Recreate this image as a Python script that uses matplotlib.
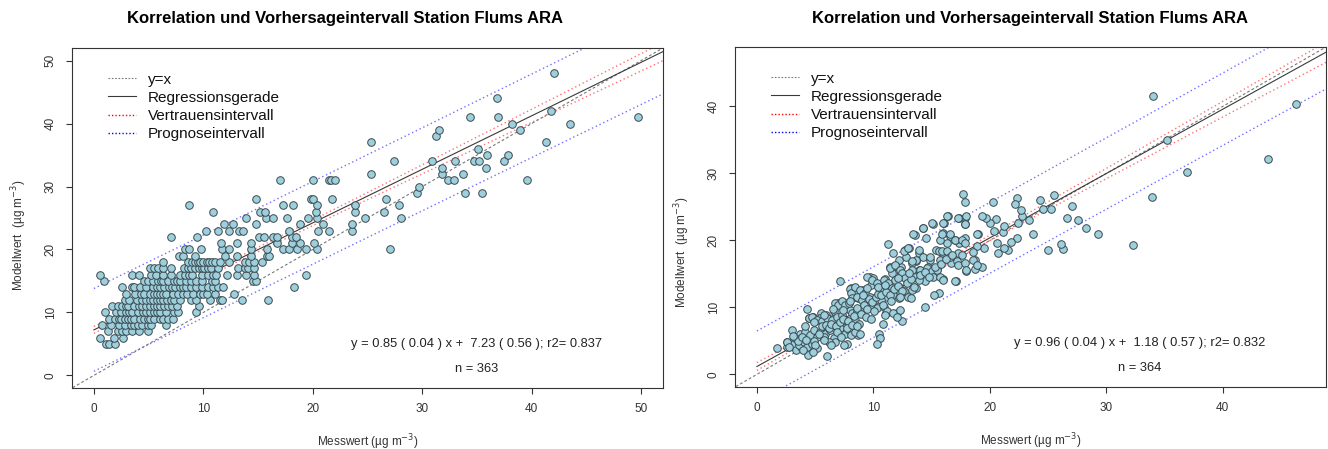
import matplotlib
matplotlib.use("Agg")
import matplotlib.pyplot as plt
from matplotlib.lines import Line2D
import numpy as np

plt.rcParams['font.family'] = ['Liberation Sans', 'DejaVu Sans']

TITLE = "Korrelation und Vorhersageintervall Station Flums ARA"

# left panel: model values are integers -> one list of measured values per row
left_rows_y = [5, 6, 7, 8, 9, 10, 11, 12, 13, 14, 15, 16, 17, 18, 19, 20, 21, 22, 23, 24, 25,
               26, 27, 28, 29, 30, 31, 32, 33, 34, 35, 36, 37, 38, 39, 40, 41, 42, 44, 48]
left_rows_x = [
    [1.1, 1.4, 1.9],
    [0.6, 1.8, 2.7],
    [1.3, 2.2, 2.6, 2.9, 3.5, 4.1, 4.9],
    [0.7, 1.6, 2.3, 2.8, 3.4, 3.7, 4.0, 4.4, 4.9, 5.2, 6.6],
    [1.4, 1.9, 2.3, 2.5, 2.8, 3.1, 3.4, 3.7, 4.2, 4.6, 4.9, 5.1, 5.5, 6.0, 6.3, 6.8, 7.2],
    [1.0, 2.0, 2.5, 2.9, 3.2, 3.5, 4.0, 4.5, 4.8, 5.1, 5.5, 5.8, 6.0, 6.6, 7.3, 7.7, 9.3],
    [1.7, 2.2, 2.6, 2.9, 3.1, 3.7, 4.1, 4.4, 4.8, 5.1, 5.5, 5.8, 6.0, 6.4, 6.8, 7.1, 7.6, 9.6],
    [2.8, 3.2, 3.9, 4.4, 4.8, 5.1, 5.4, 5.8, 6.0, 6.3, 6.7, 7.0, 7.3, 7.9, 8.9, 9.3, 10.6, 11.5,
     11.7, 13.5, 15.9],
    [2.9, 3.8, 4.3, 4.6, 5.1, 5.5, 5.8, 6.0, 6.3, 6.6, 7.2, 7.7, 8.1, 8.5, 9.1, 9.7, 10.0, 10.3,
     11.1, 12.8],
    [2.6, 3.5, 3.7, 4.2, 4.8, 5.4, 5.8, 6.0, 6.4, 6.9, 7.1, 7.4, 7.9, 8.1, 8.4, 8.9, 9.3, 9.9,
     10.4, 10.9, 11.3, 11.8, 18.3],
    [0.9, 4.6, 4.9, 5.4, 5.9, 6.1, 6.3, 6.8, 7.3, 7.6, 7.9, 8.4, 8.9, 9.3, 9.9, 10.8, 11.1,
     14.5, 14.8],
    [0.6, 3.5, 4.1, 5.2, 5.7, 6.3, 7.0, 7.9, 8.3, 8.7, 9.0, 9.9, 10.4, 10.9, 11.2, 12.2, 13.1,
     13.9, 14.6, 19.4],
    [5.1, 5.5, 5.9, 6.3, 7.0, 8.2, 8.6, 8.9, 9.2, 9.6, 9.9, 10.1, 10.4, 10.7, 11.3, 13.2, 13.8,
     14.1, 14.6],
    [6.3, 8.6, 9.0, 9.2, 9.5, 9.7, 10.0, 10.3, 10.5, 10.8, 11.1, 11.5, 12.3, 13.8, 14.2, 14.6,
     15.4],
    [7.8, 8.1, 9.2, 12.0, 13.1, 14.4, 15.8, 16.0],
    [8.3, 8.7, 9.8, 11.7, 12.3, 14.4, 15.8, 17.3, 17.8, 18.6, 19.4, 20.4, 27.1],
    [11.6, 13.1, 14.4, 16.7, 18.1, 18.8, 20.1],
    [7.0, 9.4, 15.1, 15.5, 16.4, 16.7, 18.1, 18.5],
    [10.2, 11.3, 12.3, 13.3, 13.6, 17.8, 20.5, 21.5, 23.6],
    [11.9, 12.7, 14.8, 18.8, 20.9, 23.6],
    [13.9, 15.7, 16.4, 17.6, 19.6, 20.4, 24.8, 28.1],
    [10.9, 15.2, 15.6, 20.3, 23.9, 26.5],
    [8.7, 17.3, 18.2, 20.4, 23.9, 27.9],
    [14.8, 19.8, 20.0, 21.8, 26.7],
    [29.5, 33.9, 35.5],
    [29.7],
    [17.0, 20.0, 21.5, 21.7, 22.0, 32.4, 32.9, 39.6],
    [25.3, 31.8, 33.7],
    [31.8, 35.8],
    [27.4, 30.9, 33.0, 34.7, 35.2, 37.5],
    [35.9, 37.8],
    [35.1],
    [25.3, 41.3],
    [31.3],
    [31.5, 38.9],
    [38.2, 43.5],
    [34.4, 36.9, 49.7],
    [41.8],
    [36.8],
    [42.0],
]

# right panel: measured / model values
right_x = [34.05, 46.3, 35.2, 43.9, 36.9, 33.9, 32.3, 29.3, 28.3, 27.6, 27.1, 26.6, 26.3, 26.1, 25.0,
           25.5, 25.3, 24.6, 24.3, 23.7, 23.4, 22.8, 22.7, 22.3, 22.2, 22.4, 22.3, 21.8, 21.6, 21.2,
           21.1, 21.2, 20.6, 20.7, 20.5, 20.4, 20.3, 20.0, 19.7, 19.3, 19.5, 19.3, 19.0, 18.9, 18.7,
           18.6, 18.7, 17.9, 17.7, 17.9, 17.9, 17.9, 17.4, 17.4, 17.3, 18.0, 17.1, 17.0, 16.7, 16.6,
           16.4, 16.3, 16.1, 16.0, 15.9, 15.7, 16.0, 15.7, 15.4, 15.1, 14.9, 15.5, 15.6, 15.2, 14.7,
           14.5, 14.3, 14.4, 13.9, 13.9, 13.7, 13.6, 13.3, 13.1, 13.0, 12.8, 12.7, 12.4, 12.4, 12.2,
           11.9, 11.7, 11.4, 11.3, 11.6, 11.9, 12.5, 12.0, 11.0, 11.1, 10.8, 10.5, 10.6, 10.3, 9.7,
           10.0, 9.8, 9.0, 9.1, 8.7, 8.3, 8.1, 8.7, 8.0, 7.7, 7.5, 7.1, 7.0, 6.7, 7.7,
           7.5, 6.6, 6.1, 6.0, 5.5, 5.4, 4.8, 4.5, 4.3, 4.6, 4.4, 3.0, 1.7, 2.6, 2.6,
           3.1, 3.4, 3.8,
           8.0, 8.1, 8.2, 7.0, 7.3, 7.6, 7.9, 5.9, 6.6, 4.44, 4.73, 5.16, 5.59, 6.02, 6.45,
           6.88, 7.3, 7.59, 8.16, 8.59, 8.45, 8.73, 3.73, 4.15, 4.58, 4.87, 5.16, 5.44, 5.87, 6.3,
           6.58, 6.73, 6.16, 5.73, 7.16, 7.59, 7.87, 8.1, 8.45, 8.88, 2.58, 2.72, 3.3, 3.58, 4.01,
           4.3, 4.73, 5.16,
           16.3, 17.3, 18.0, 17.9, 15.0, 16.0, 14.3, 13.45, 15.9, 16.6, 17.0, 17.6, 17.9, 18.9,
           12.6, 13.0, 13.9, 14.3, 13.7, 13.3, 14.9, 15.6, 15.9, 16.3, 16.6, 17.2, 17.6, 17.3, 17.9,
           18.6, 18.9, 18.0, 11.45, 11.88, 12.3, 12.45, 12.74, 13.3, 13.6, 14.0, 14.6, 15.0, 15.45,
           15.16, 15.75, 16.0, 17.0, 14.4, 13.7, 13.3, 13.9, 9.45, 9.88, 10.3, 10.9, 11.3, 11.0,
           11.6, 12.2, 12.6, 13.0, 13.2, 11.7, 11.2, 12.2, 10.6, 8.45, 8.88, 9.3, 9.73, 10.16,
           8.6, 9.0, 9.45, 9.88, 10.3, 10.9, 10.7, 11.2, 11.7, 12.3, 12.0, 11.0,
           # dense core, partly hidden behind other markers
           3.5, 3.9, 4.2, 4.9, 5.3, 5.6, 5.9, 6.2, 6.4, 6.8, 7.1, 7.4, 7.8, 8.3, 8.6, 8.9, 9.2,
           9.5, 9.6, 9.9, 10.2, 10.4, 10.7, 11.1, 11.4, 11.8, 12.1, 12.5, 12.9, 13.2, 13.5, 14.0,
           14.4, 14.8, 15.3, 15.8, 16.2, 16.8, 5.0, 5.8, 6.9, 7.7, 8.2, 9.4, 10.1, 10.8, 11.5,
           12.3, 4.0, 4.8, 6.4, 7.2, 8.6, 9.8, 3.1, 4.1, 4.9, 5.8, 6.5, 7.4, 8.0, 9.1, 9.5, 10.4,
           11.0, 12.1, 13.1]
right_y = [41.5, 40.4, 35.0, 32.2, 30.2, 26.5, 19.3, 20.9, 21.8, 23.1, 25.1, 23.3, 18.7, 19.5, 18.5,
           26.8, 24.7, 24.7, 26.1, 20.9, 23.1, 23.6, 24.6, 26.4, 25.4, 22.6, 20.4, 19.7, 18.6, 18.9,
           21.2, 22.2, 19.6, 18.1, 23.2, 21.4, 25.8, 22.6, 23.3, 23.6, 18.9, 16.0, 21.0, 19.1, 17.1,
           18.3, 15.8, 25.7, 26.9, 23.3, 22.5, 20.3, 23.3, 19.6, 18.1, 15.5, 13.9, 20.1, 16.6, 20.6,
           23.6, 19.6, 22.6, 21.1, 18.1, 17.1, 14.2, 20.1, 18.6, 22.5, 17.1, 15.7, 12.1, 11.9, 16.1,
           20.3, 21.8, 10.1, 18.1, 15.6, 16.9, 20.8, 16.6, 18.9, 14.4, 17.6, 18.6, 16.1, 15.1, 17.1,
           16.2, 18.1, 16.0, 19.4, 15.1, 14.1, 7.9, 9.1, 14.2, 9.1, 7.5, 6.0, 5.4, 4.6, 14.6,
           14.4, 13.4, 12.6, 10.1, 11.4, 12.1, 12.9, 5.9, 9.6, 10.6, 7.6, 13.9, 10.6, 10.6, 4.6,
           4.4, 8.4, 6.6, 2.7, 9.1, 8.4, 8.6, 8.4, 9.7, 5.4, 2.9, 6.6, 3.9, 4.9, 4.1,
           4.6, 3.6, 4.1,
           12.7, 12.1, 11.4, 10.4, 10.9, 10.4, 10.6, 8.9, 9.4, 8.4, 8.6, 8.1, 7.9, 8.4, 8.1,
           8.6, 8.9, 8.1, 9.1, 9.4, 8.1, 7.6, 6.1, 6.4, 5.9, 6.6, 5.6, 6.4, 6.1, 6.6,
           5.4, 4.9, 4.9, 5.6, 6.9, 6.1, 6.6, 5.9, 6.4, 6.1, 4.9, 4.1, 5.4, 4.4, 4.9,
           4.1, 4.6, 3.9,
           23.6, 23.4, 23.6, 22.4, 22.6, 22.6, 21.9, 21.0, 21.0, 20.9, 20.1, 20.1, 19.6, 21.0,
           18.4, 18.9, 18.6, 17.6, 17.1, 16.9, 17.6, 18.4, 18.4, 18.4, 17.6, 16.9, 17.9, 16.4, 16.6,
           17.1, 16.4, 15.6, 15.9, 16.4, 15.6, 15.1, 14.4, 15.6, 14.6, 15.6, 15.9, 15.4, 15.6,
           14.6, 14.6, 14.1, 13.9, 13.9, 12.9, 12.6, 14.1, 14.6, 14.1, 13.6, 14.1, 13.6, 13.1,
           12.9, 13.1, 12.4, 11.6, 11.4, 11.9, 11.6, 11.4, 12.6, 13.1, 12.6, 12.1, 11.6, 11.1,
           11.6, 11.1, 10.6, 10.1, 9.9, 10.1, 11.1, 9.4, 9.1, 9.6, 8.6, 8.9,
           5.0, 5.6, 5.2, 5.0, 6.0, 7.2, 7.4, 7.0, 7.6, 7.3, 7.8, 8.2, 8.0, 8.7, 9.9, 9.0, 10.3,
           9.8, 11.2, 10.8, 11.5, 12.0, 11.8, 12.3, 11.9, 12.8, 13.2, 12.4, 13.6, 14.2, 13.0, 14.8,
           15.3, 14.6, 16.1, 16.5, 17.3, 17.9, 4.4, 5.1, 6.4, 7.0, 7.4, 8.6, 9.5, 10.4, 10.9,
           11.6, 3.6, 3.4, 4.4, 5.6, 7.2, 8.2, 5.8, 7.2, 7.8, 8.9, 9.8, 9.6, 10.9, 11.9, 12.9, 13.1,
           13.4, 14.4, 15.1]

left_fit = dict(slope=0.85, slope_se=0.04, icpt=7.23, icpt_se=0.56, r2=0.837, n=363,
                resid_se=3.33, lim=50)
right_fit = dict(slope=0.96, slope_se=0.04, icpt=1.18, icpt_se=0.57, r2=0.832, n=364,
                 resid_se=2.68, lim=47)

left_x = np.concatenate([np.array(xs, float) for xs in left_rows_x])
left_y = np.concatenate([np.full(len(xs), y, float) for y, xs in zip(left_rows_y, left_rows_x)])


def panel(ax, x, y, fit, ylab_pos):
    x = np.asarray(x, float)
    y = np.asarray(y, float)
    lim = fit['lim']
    pad = 0.04 * lim
    b, a = fit['slope'], fit['icpt']
    n = fit['n']
    s = fit['resid_se']
    xbar = x.mean()
    sxx = np.sum((x - xbar) ** 2) * n / len(x)
    t = 1.967
    xx = np.linspace(0, lim * 1.2, 300)
    yy = a + b * xx
    ci = t * s * np.sqrt(1 / n + (xx - xbar) ** 2 / sxx)
    pi = t * s * np.sqrt(1 + 1 / n + (xx - xbar) ** 2 / sxx)

    ax.plot([-10, lim * 1.5], [-10, lim * 1.5], color='#777777', lw=0.8, ls=(0, (2.5, 2)))
    ax.plot(xx, yy, color='#3a3a3a', lw=0.8)
    for sgn in (1, -1):
        ax.plot(xx, yy + sgn * ci, color='#ff7070', lw=1.0, ls=(0, (1, 2)))
        ax.plot(xx, yy + sgn * pi, color='#7070ff', lw=1.0, ls=(0, (1, 2)))
    ax.scatter(x, y, s=30, c='#9dcfdc', edgecolors='#3a4a50', linewidths=0.7, zorder=3)

    ax.set_xlim(-pad, lim + pad)
    ax.set_ylim(-pad, lim + pad)
    ticks = np.arange(0, lim + 0.1, 10)
    ax.set_xticks(ticks)
    ax.set_yticks(ticks)
    ax.tick_params(direction='out', length=4, width=0.8, labelsize=8.5,
                   colors='#333333', pad=7)
    for lab in ax.get_yticklabels():
        lab.set_rotation(90)
        lab.set_va('center')
    for sp in ax.spines.values():
        sp.set_linewidth(0.8)
        sp.set_color('#333333')
    ax.set_xlabel('Messwert (µg m$^{-3}$)', fontsize=8.5, color='#333333', labelpad=12)
    ax.set_ylabel('Modellwert  (µg m$^{-3}$)', fontsize=8.5, color='#333333')
    ax.yaxis.set_label_coords(-0.073, ylab_pos)

    txt = "y = %.2f ( %.2f ) x +  %.2f ( %.2f ); r2= %.3f" % (
        b, fit['slope_se'], a, fit['icpt_se'], fit['r2'])
    ax.text(0.7 * lim, 0.1 * lim, txt, ha='center', va='center', fontsize=9.3, color='#222222')
    ax.text(0.7 * lim, 0.02 * lim, "n = %d" % fit['n'], ha='center', va='center',
            fontsize=9.3, color='#222222')

    handles = [
        Line2D([], [], color='#777777', lw=0.8, ls=(0, (1.5, 1.5))),
        Line2D([], [], color='#3a3a3a', lw=0.8),
        Line2D([], [], color='red', lw=1.0, ls=(0, (1, 1.5))),
        Line2D([], [], color='blue', lw=1.0, ls=(0, (1, 1.5))),
    ]
    labels = ['y=x', 'Regressionsgerade', 'Vertrauensintervall', 'Prognoseintervall']
    ax.legend(handles, labels, loc='upper left', bbox_to_anchor=(0.038, 0.968), frameon=False,
              fontsize=11, handlelength=1.8, handletextpad=0.8, labelspacing=0.27,
              labelcolor='#111111')


fig = plt.figure(figsize=(13.28, 4.49), dpi=100)
ax1 = fig.add_axes([72 / 1328, 1 - 388 / 449, 591 / 1328, 340 / 449])
ax2 = fig.add_axes([735 / 1328, 1 - 387 / 449, 591 / 1328, 340 / 449])

panel(ax1, left_x, left_y, left_fit, 0.45)
panel(ax2, right_x, right_y, right_fit, 0.395)

fig.text(345 / 1328, 1 - 18 / 449, TITLE, ha='center', va='center', fontsize=12, fontweight='bold')
fig.text(1030 / 1328, 1 - 18 / 449, TITLE, ha='center', va='center', fontsize=12, fontweight='bold')

fig.savefig('out.png', dpi=100)
